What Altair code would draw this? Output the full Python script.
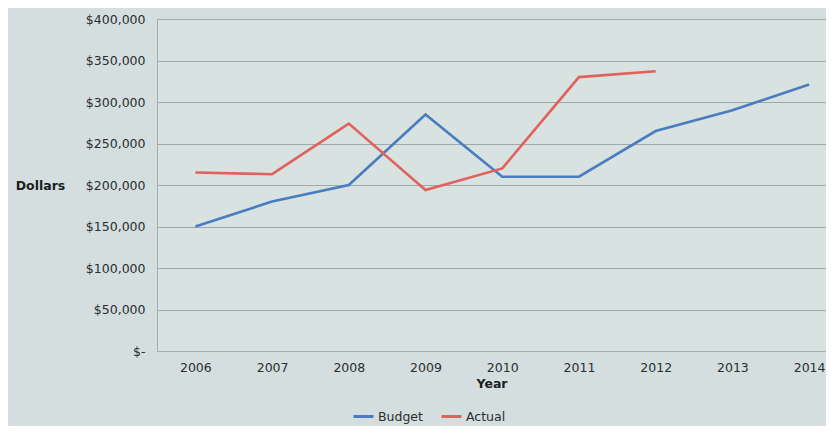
import altair as alt
import pandas as pd

years = [2006, 2007, 2008, 2009, 2010, 2011, 2012, 2013, 2014]
budget = [150000, 180000, 200000, 285000, 210000, 210000, 265000, 290000, 321000]
actual_years = [2006, 2007, 2008, 2009, 2010, 2011, 2012]
actual = [215000, 213000, 274000, 194000, 220000, 330000, 337000]
series = ["Budget", "Actual"]
colors = ["#4a7cc0", "#e0625c"]

rows = [{"Year": y, "Series": "Budget", "Dollars": v} for y, v in zip(years, budget)]
rows += [{"Year": y, "Series": "Actual", "Dollars": v} for y, v in zip(actual_years, actual)]
df = pd.DataFrame(rows)

font = "DejaVu Sans"

chart = alt.Chart(df).mark_line(strokeWidth=2.6).encode(
    x=alt.X("Year:Q",
            scale=alt.Scale(domain=[2005.5, 2014.22], nice=False, zero=False),
            axis=alt.Axis(values=years, format="d", grid=False, ticks=False,
                          labelPadding=10, titlePadding=4, domainColor="#a4abab",
                          labelFlush=False)),
    y=alt.Y("Dollars:Q",
            scale=alt.Scale(domain=[0, 400000], nice=False),
            axis=alt.Axis(values=[0, 50000, 100000, 150000, 200000, 250000, 300000, 350000, 400000],
                          labelExpr="datum.value == 0 ? '$-' : '$' + format(datum.value, ',')",
                          ticks=False, labelPadding=12, gridColor="#a0a8a8",
                          domainColor="#a4abab",
                          titleAngle=0, titleX=-117, titleY=166, titleAlign="center",
                          titleBaseline="middle")),
    color=alt.Color("Series:N",
                    scale=alt.Scale(domain=series, range=colors),
                    legend=alt.Legend(title=None, orient="none", direction="horizontal",
                                      legendX=195, legendY=386, symbolType="stroke",
                                      symbolStrokeWidth=3, symbolSize=400,
                                      labelFontSize=12.5, columnPadding=12, labelOffset=3)),
).properties(
    width=669,
    height=332,
    autosize=alt.AutoSizeParams(type="none"),
    padding={"left": 149, "top": 11, "right": 0, "bottom": 75},
    background="#d4dedf",
).configure_view(
    stroke=None, fill="#d8e2e1"
).configure_axis(
    labelFont=font, labelFontSize=12.5, labelColor="#2a2e2e",
    titleFont=font, titleFontSize=12.5, titleColor="#1a1e1e", titleFontWeight="bold",
).configure_legend(
    labelFont=font, labelColor="#2a2e2e"
)

chart.save("out.html", embed_options={"renderer": "svg", "actions": False})
